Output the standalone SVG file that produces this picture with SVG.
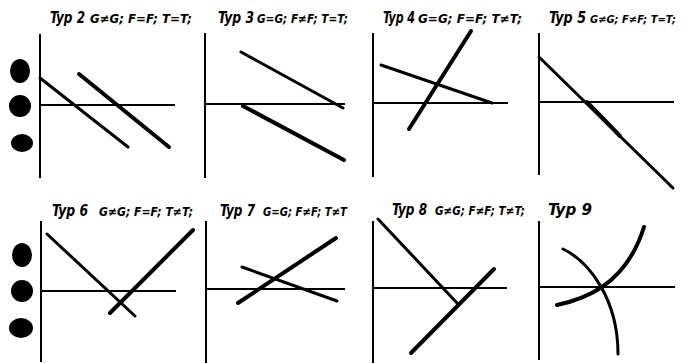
<svg xmlns="http://www.w3.org/2000/svg" width="684" height="363" viewBox="0 0 684 363">
<style>
.t{font-family:"Liberation Sans Narrow","DejaVu Sans Condensed","Liberation Sans",sans-serif;font-style:italic;font-weight:bold;fill:#000}
.h{font-size:15px}
.f{font-size:12.5px;font-weight:600}
.ax{stroke:#000;stroke-width:2;fill:none}
.ln{stroke:#000;stroke-width:3;fill:none;stroke-linecap:round}
.tk{stroke:#000;stroke-width:4;fill:none;stroke-linecap:round}
</style>
<rect width="684" height="363" fill="#fff"/>
<g id="dots-top">
<ellipse cx="20" cy="71" rx="10" ry="12"/>
<ellipse cx="20" cy="106" rx="11" ry="11"/>
<ellipse cx="22" cy="143" rx="11" ry="9"/>
</g>
<g id="dots-bottom">
<ellipse cx="22" cy="255" rx="10" ry="12"/>
<ellipse cx="22" cy="291" rx="11" ry="11"/>
<ellipse cx="21" cy="328" rx="12" ry="10"/>
</g>
<g id="typ2">
<text class="t h" x="50" y="23" textLength="35" lengthAdjust="spacingAndGlyphs">Typ 2</text>
<text class="t f" x="90" y="23" textLength="102" lengthAdjust="spacingAndGlyphs">G≠G; F=F; T=T;</text>
<path class="ax" d="M40,34V178M40,105H175"/>
<path class="ln" d="M40,78L128,147"/>
<path class="tk" d="M79,74L169,147"/>
</g>
<g id="typ3">
<text class="t h" x="218" y="23" textLength="36" lengthAdjust="spacingAndGlyphs">Typ 3</text>
<text class="t f" x="257" y="23" textLength="91" lengthAdjust="spacingAndGlyphs">G=G; F≠F; T=T;</text>
<path class="ax" d="M205,33V178M205,104H345"/>
<path class="ln" d="M241,52L343,108"/>
<path class="tk" d="M243,106L344,160"/>
</g>
<g id="typ4">
<text class="t h" x="383" y="23" textLength="32" lengthAdjust="spacingAndGlyphs">Typ 4</text>
<text class="t f" x="418" y="23" textLength="104" lengthAdjust="spacingAndGlyphs">G=G; F=F; T≠T;</text>
<path class="ax" d="M373,33V177M373,103H508"/>
<path class="ln" d="M381,65L492,103"/>
<path class="tk" d="M409,129L471,31"/>
</g>
<g id="typ5">
<text class="t h" x="549" y="23" textLength="37" lengthAdjust="spacingAndGlyphs">Typ 5</text>
<text class="t f" x="590" y="23" style="font-size:11px" textLength="86" lengthAdjust="spacingAndGlyphs">G≠G; F≠F; T=T;</text>
<path class="ax" d="M539,33V175M539,102H674"/>
<path class="ln" d="M539,57L673,188"/>
<path class="tk" d="M587,102L620,136"/>
</g>
<g id="typ6">
<text class="t h" x="52" y="216" textLength="36" lengthAdjust="spacingAndGlyphs">Typ 6</text>
<text class="t f" x="99" y="216" textLength="94" lengthAdjust="spacingAndGlyphs">G≠G; F=F; T≠T;</text>
<path class="ax" d="M41,221V362M41,291H176"/>
<path class="ln" d="M47,234L135,316"/>
<path class="tk" d="M110,313L193,230"/>
</g>
<g id="typ7">
<text class="t h" x="220" y="216" textLength="35" lengthAdjust="spacingAndGlyphs">Typ 7</text>
<text class="t f" x="263" y="216" textLength="84" lengthAdjust="spacingAndGlyphs">G=G; F≠F; T≠T</text>
<path class="ax" d="M206,221V363M206,289H345"/>
<path class="ln" d="M242,267L337,301"/>
<path class="tk" d="M238,303L336,238"/>
</g>
<g id="typ8">
<text class="t h" x="392" y="215" textLength="35" lengthAdjust="spacingAndGlyphs">Typ 8</text>
<text class="t f" x="435" y="215" textLength="90" lengthAdjust="spacingAndGlyphs">G≠G; F≠F; T≠T;</text>
<path class="ax" d="M373,221V363M373,288H507"/>
<path class="ln" d="M378,219L457,303"/>
<path class="tk" d="M411,353L494,269"/>
</g>
<g id="typ9">
<text class="t h" x="548" y="215" textLength="44" lengthAdjust="spacingAndGlyphs">Typ 9</text>
<path class="ax" d="M539,221V360M539,287H675"/>
<path class="tk" d="M557,305C580,300 625,288 644,227"/>
<path class="ln" d="M563,249C590,262 618,300 618,354"/>
</g>
</svg>
